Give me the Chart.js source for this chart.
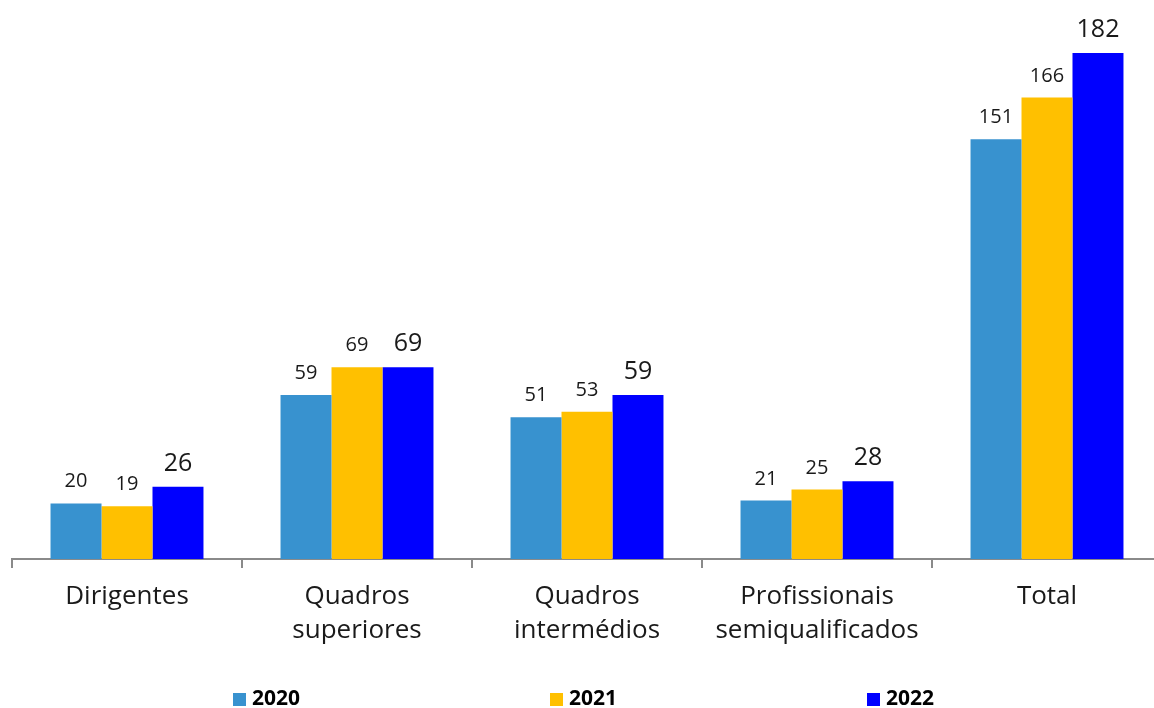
<!DOCTYPE html>
<html>
<head>
<meta charset="utf-8">
<script src="https://cdn.jsdelivr.net/npm/chart.js@4/dist/chart.umd.min.js"></script>
<style>
  html, body { margin: 0; padding: 0; background: #fff; overflow: hidden; }
  #wrap { width: 1162px; height: 708px; }
</style>
</head>
<body>
<div id="wrap"><canvas id="barChart"></canvas></div>
<script>
const categories = [
    'Dirigentes',
    ['Quadros', 'superiores'],
    ['Quadros', 'intermédios'],
    ['Profissionais', 'semiqualificados'],
    'Total'
];
const years = ['2020', '2021', '2022'];
const values2020 = [20, 59, 51, 21, 151];
const values2021 = [19, 69, 53, 25, 166];
const values2022 = [26, 69, 59, 28, 182];
const colors = ['#3892CF', '#FFC000', '#0000FF'];

// value labels above each bar (2022 is printed bigger)
const barLabels = {
    id: 'barLabels',
    afterDatasetsDraw(chart) {
        const ctx = chart.ctx;
        ctx.save();
        ctx.fillStyle = '#1a1a1a';
        ctx.textAlign = 'center';
        ctx.textBaseline = 'alphabetic';
        chart.data.datasets.forEach((ds, i) => {
            const size = i === 2 ? 25 : 20;
            ctx.font = size + 'px "Open Sans"';
            chart.getDatasetMeta(i).data.forEach((bar, j) => {
                ctx.fillText(ds.data[j], bar.x, bar.y - 16);
            });
        });
        ctx.restore();
    }
};

// legend spread across the bottom like the original
const spreadLegend = {
    id: 'spreadLegend',
    afterDraw(chart) {
        const ctx = chart.ctx;
        const xs = [233, 550, 867];
        ctx.save();
        ctx.font = 'bold 21px "Open Sans"';
        ctx.textBaseline = 'middle';
        ctx.textAlign = 'left';
        chart.data.datasets.forEach((ds, i) => {
            ctx.fillStyle = ds.backgroundColor;
            ctx.fillRect(xs[i], 693, 13, 13);
            ctx.fillStyle = '#000';
            ctx.fillText(ds.label, xs[i] + 19, 699);
        });
        ctx.restore();
    }
};

new Chart(document.getElementById('barChart'), {
    type: 'bar',
    data: {
        labels: categories,
        datasets: [
            { label: years[0], data: values2020, backgroundColor: colors[0] },
            { label: years[1], data: values2021, backgroundColor: colors[1] },
            { label: years[2], data: values2022, backgroundColor: colors[2] }
        ]
    },
    options: {
        responsive: true,
        maintainAspectRatio: false,
        animation: false,
        datasets: {
            bar: { categoryPercentage: 0.665, barPercentage: 1 }
        },
        layout: { padding: { left: 12, right: 0, top: 3, bottom: 59 } },
        plugins: {
            legend: { display: false },
            tooltip: { enabled: false }
        },
        scales: {
            x: {
                grid: {
                    display: true,
                    drawOnChartArea: false,
                    drawTicks: true,
                    tickLength: 9,
                    color: '#8a8a8a',
                    lineWidth: 2,
                    offset: true
                },
                border: { display: true, color: '#8a8a8a', width: 2 },
                ticks: {
                    color: '#1a1a1a',
                    padding: 11,
                    maxRotation: 0,
                    autoSkip: false,
                    font: { family: '"Open Sans"', size: 26, lineHeight: 1.32 }
                },
                afterFit(scale) { scale.height = 90; }
            },
            y: {
                display: false,
                min: 0,
                max: 200
            }
        }
    },
    plugins: [barLabels, spreadLegend]
});
</script>
</body>
</html>
